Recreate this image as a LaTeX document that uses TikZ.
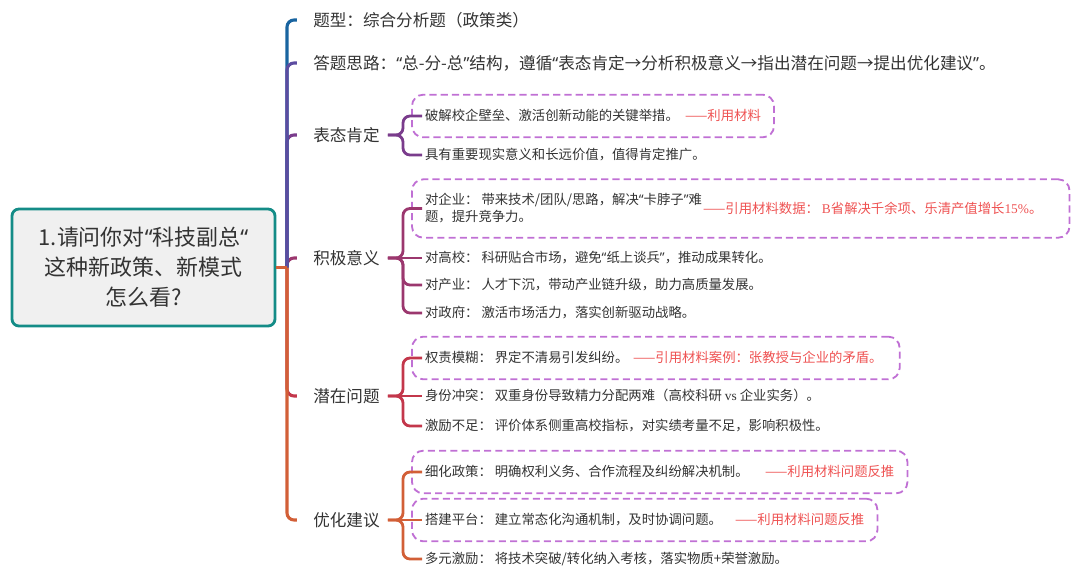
\documentclass[tikz,border=0pt]{standalone}
\usepackage{fontspec}
\setmainfont{Noto Sans CJK SC}
\newfontfamily\latinserif{Liberation Serif}
\newfontfamily\quotefont{Noto Sans}
\newcommand{\qo}{{\quotefont “}}
\newcommand{\qc}{{\quotefont ”}}
\usetikzlibrary{fit, positioning}
\definecolor{mytext}{RGB}{51,51,51}
\definecolor{myred}{RGB}{238,82,82}
\definecolor{myteal}{RGB}{20,140,135}
\definecolor{rootfill}{RGB}{240,240,240}
\definecolor{markpurple}{RGB}{192,112,212}
\definecolor{brblue}{RGB}{25,100,160}
\definecolor{brindigo}{RGB}{92,76,160}
\definecolor{brpurple}{RGB}{122,60,140}
\definecolor{brplum}{RGB}{155,55,110}
\definecolor{brcrimson}{RGB}{195,55,75}
\definecolor{brorange}{RGB}{210,95,55}
\tikzset{
  rootbox/.style={rectangle, draw=myteal, fill=rootfill, line width=2pt,
    rounded corners=5pt, minimum width=6.575cm, minimum height=2.925cm,
    align=center, text=mytext, font=\fontsize{15.6}{21.3}\selectfont},
  branch/.style={anchor=west, inner sep=0pt, text=mytext,
    font=\fontsize{11.8}{14}\selectfont},
  leaf/.style={anchor=west, inner xsep=0.07cm, inner ysep=0pt, text=mytext,
    font=\fontsize{9.5}{12.1}\selectfont},
  oneline/.style={text height=0.85em, text depth=0.15em},
  remark/.style={leaf, oneline, text=myred},
  markbox/.style={draw=markpurple, dash pattern=on 5pt off 3pt, line width=1.3pt,
    rounded corners=8pt, inner xsep=0.25cm, inner ysep=0.35cm},
  trunk/.style={line width=2.2pt, rounded corners=5pt},
  twig/.style={line width=2pt, rounded corners=5pt}
}

\begin{document}
\begin{tikzpicture}[x=0.025cm, y=-0.025cm]
  \useasboundingbox (0,0) rectangle (1080,581);

  % Root
  \node[rootbox] (root) at (143.5,267.5) {1.请问你对\qo 科技副总\qo\\这种新政策、新模式\\怎么看?};
  \coordinate (hub) at (287,267.5);

  % Main branches
  \node[branch] (type) at (313,20) {题型：综合分析题（政策类）};
  \node[branch] (idea) at (313,63) {答题思路：\qo 总-分-总\qc 结构，遵循\qo 表态肯定→分析积极意义→指出潜在问题→提出优化建议\qc 。};
  \node[branch] (stance) at (313,135) {表态肯定};
  \node[branch] (value) at (313,258) {积极意义};
  \node[branch] (risk) at (313,396) {潜在问题};
  \node[branch] (advice) at (313,520) {优化建议};

  % Trunk
  \draw[trunk, brpurple] (hub) |- ([xshift=-0.4cm]stance.west);
  \draw[trunk, brplum] (hub) |- ([xshift=-0.4cm]value.west);
  \draw[trunk, brcrimson] (hub) |- ([xshift=-0.4cm]risk.west);
  \draw[trunk, brblue] (hub) |- ([xshift=-0.4cm]type.west);
  \draw[trunk, brindigo] (hub) |- ([xshift=-0.4cm]idea.west);
  \draw[trunk, brorange] (hub) |- ([xshift=-0.4cm]advice.west);
  \draw[trunk, brorange] (root.east) -- (hub);

  % Stance
  \node[leaf, oneline] (s1a) at (422,116) {破解校企壁垒、激活创新动能的关键举措。};
  \node[remark] (s1m) at (682,116) {——利用材料};
  \node[leaf, oneline] (s1b) at (422,155) {具有重要现实意义和长远价值，值得肯定推广。};
  \node[markbox, fit=(s1a)(s1m)] (s1box) {};
  \coordinate (j1) at (403,135);
  \draw[twig, brpurple] ([xshift=0.2cm]stance.east) -- (j1) |- (s1a.west);
  \draw[twig, brpurple] ([xshift=0.2cm]stance.east) -- (j1) |- (s1b.west);

  % Value
  \node[leaf, align=left] (v1) at (422,208.5) {对企业： 带来技术/团队/思路，解决\qo 卡脖子\qc 难\\题，提升竞争力。};
  \node[remark] (v1m) at (700,209) {——引用材料数据： {\latinserif B}省解决千余项、乐清产值增长{\latinserif 15\%}。};
  \node[leaf, oneline] (v2) at (422,258) {对高校： 科研贴合市场，避免\qo 纸上谈兵\qc ，推动成果转化。};
  \node[leaf, oneline] (v3) at (422,285) {对产业： 人才下沉，带动产业链升级，助力高质量发展。};
  \node[leaf, oneline] (v4) at (422,313) {对政府： 激活市场活力，落实创新驱动战略。};
  \coordinate (v1end) at ([xshift=0.35cm]v1m.east);
  \node[markbox, fit=(v1)(v1m)(v1end)] (v1box) {};
  \coordinate (j2) at (403,258);
  \draw[twig, brplum] ([xshift=0.2cm]value.east) -- (j2) |- (v1.west);
  \draw[twig, brplum] ([xshift=0.2cm]value.east) -- (v2.west);
  \draw[twig, brplum] ([xshift=0.2cm]value.east) -- (j2) |- (v3.west);
  \draw[twig, brplum] ([xshift=0.2cm]value.east) -- (j2) |- (v4.west);

  % Risk
  \node[leaf, oneline] (r1) at (422,358) {权责模糊： 界定不清易引发纠纷。};
  \node[remark] (r1m) at (630,358) {——引用材料案例：张教授与企业的矛盾。};
  \node[leaf, oneline] (r2) at (422,396) {身份冲突： 双重身份导致精力分配两难（高校科研 {\latinserif vs} 企业实务）。};
  \node[leaf, oneline] (r3) at (422,426) {激励不足： 评价体系侧重高校指标，对实绩考量不足，影响积极性。};
  \coordinate (r1end) at ([xshift=0.1cm]r1m.east);
  \node[markbox, fit=(r1)(r1m)(r1end)] (r1box) {};
  \coordinate (j3) at (403,396);
  \draw[twig, brcrimson] ([xshift=0.2cm]risk.east) -- (j3) |- (r1.west);
  \draw[twig, brcrimson] ([xshift=0.2cm]risk.east) -- (r2.west);
  \draw[twig, brcrimson] ([xshift=0.2cm]risk.east) -- (j3) |- (r3.west);

  % Advice
  \node[leaf, oneline] (a1) at (422,472) {细化政策： 明确权利义务、合作流程及纠纷解决机制。};
  \node[remark] (a1m) at (762,472) {——利用材料问题反推};
  \node[leaf, oneline] (a2) at (422,520) {搭建平台： 建立常态化沟通机制，及时协调问题。};
  \node[remark] (a2m) at (732,520) {——利用材料问题反推};
  \node[leaf, oneline] (a3) at (422,559) {多元激励： 将技术突破/转化纳入考核，落实物质+荣誉激励。};
  \node[markbox, fit=(a1)(a1m)] (a1box) {};
  \node[markbox, fit=(a2)(a2m)] (a2box) {};
  \coordinate (j4) at (403,520);
  \draw[twig, brorange] ([xshift=0.2cm]advice.east) -- (j4) |- (a1.west);
  \draw[twig, brorange] ([xshift=0.2cm]advice.east) -- (a2.west);
  \draw[twig, brorange] ([xshift=0.2cm]advice.east) -- (j4) |- (a3.west);
\end{tikzpicture}
\end{document}
